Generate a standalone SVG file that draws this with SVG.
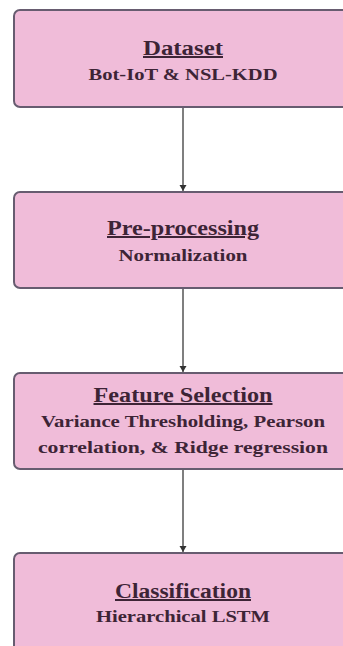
<svg xmlns="http://www.w3.org/2000/svg" width="343" height="646" viewBox="0 0 343 646">
<style>
.box{fill:#f0bcd9;stroke:#675c70;stroke-width:2}
.t{font-family:"Liberation Serif","Times New Roman",serif;font-weight:bold;fill:#3d2436;text-anchor:middle}
.h{font-size:20px;text-decoration:underline}
.s{font-size:17px}
.c{stroke:#555;stroke-width:1.5;fill:none}
</style>
<defs>
<marker id="ah" markerWidth="8" markerHeight="8" refX="7" refY="4" orient="auto" markerUnits="userSpaceOnUse" viewBox="0 0 8 8">
<path d="M1,0.5 L7,4 L1,7.5 Z" fill="#333"/>
</marker>
</defs>
<rect width="343" height="646" fill="#ffffff"/>
<g id="connectors">
<line class="c" x1="183" y1="107" x2="183" y2="191" marker-end="url(#ah)"/>
<line class="c" x1="183" y1="288" x2="183" y2="372" marker-end="url(#ah)"/>
<line class="c" x1="183" y1="469" x2="183" y2="552" marker-end="url(#ah)"/>
</g>
<g id="dataset">
<rect class="box" x="14" y="10" width="345" height="97" rx="6"/>
<text class="t h" x="183" y="55" textLength="80" lengthAdjust="spacingAndGlyphs">Dataset</text>
<text class="t s" x="183" y="80" textLength="189" lengthAdjust="spacingAndGlyphs">Bot-IoT &amp; NSL-KDD</text>
</g>
<g id="preprocessing">
<rect class="box" x="14" y="192" width="345" height="96" rx="6"/>
<text class="t h" x="183" y="235" textLength="152" lengthAdjust="spacingAndGlyphs">Pre-processing</text>
<text class="t s" x="183" y="261" textLength="129" lengthAdjust="spacingAndGlyphs">Normalization</text>
</g>
<g id="feature-selection">
<rect class="box" x="14" y="373" width="345" height="96" rx="6"/>
<text class="t h" x="183" y="402" textLength="179" lengthAdjust="spacingAndGlyphs">Feature Selection</text>
<text class="t s" x="183" y="427" textLength="284" lengthAdjust="spacingAndGlyphs">Variance Thresholding, Pearson</text>
<text class="t s" x="183" y="453" textLength="290" lengthAdjust="spacingAndGlyphs">correlation, &amp; Ridge regression</text>
</g>
<g id="classification">
<rect class="box" x="14" y="553" width="345" height="110" rx="6"/>
<text class="t h" x="183" y="598" textLength="136" lengthAdjust="spacingAndGlyphs">Classification</text>
<text class="t s" x="183" y="622" textLength="174" lengthAdjust="spacingAndGlyphs">Hierarchical LSTM</text>
</g>
</svg>
